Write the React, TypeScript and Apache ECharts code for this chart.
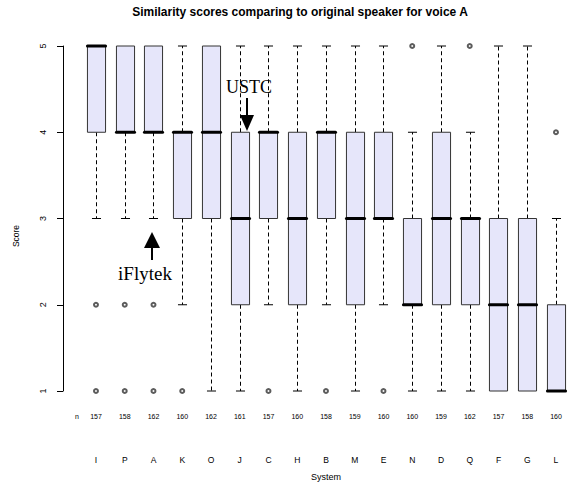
import React, { useEffect, useRef } from "react";
import * as echarts from "echarts";

const systems = ["I", "P", "A", "K", "O", "J", "C", "H", "B", "M", "E", "N", "D", "Q", "F", "G", "L"];
const counts = [157, 158, 162, 160, 162, 161, 157, 160, 158, 159, 160, 160, 159, 162, 157, 158, 160];
const lowWhisker = [3, 3, 3, 2, 1, 1, 2, 1, 2, 1, 2, 1, 1, 1, 1, 1, 1];
const q1 = [4, 4, 4, 3, 3, 2, 3, 2, 3, 2, 3, 2, 2, 2, 1, 1, 1];
const medians = [5, 4, 4, 4, 4, 3, 4, 3, 4, 3, 3, 2, 3, 3, 2, 2, 1];
const q3 = [5, 5, 5, 4, 5, 4, 4, 4, 4, 4, 4, 3, 4, 3, 3, 3, 2];
const highWhisker = [5, 5, 5, 5, 5, 5, 5, 5, 5, 5, 5, 4, 5, 4, 5, 5, 3];
const outliers: [string, number][] = [
  ["I", 2], ["I", 1], ["P", 2], ["P", 1], ["A", 2], ["A", 1],
  ["K", 1], ["C", 1], ["B", 1], ["E", 1], ["N", 5], ["Q", 5], ["L", 4],
];
const yMin = 1;
const yMax = 5;
const yStep = 1;

const titleText = "Similarity scores comparing to original speaker for voice A";
const SANS = "'Liberation Sans', Arial, sans-serif";
const SERIF = "'Liberation Serif', 'Times New Roman', serif";

export default function App() {
  const ref = useRef<HTMLDivElement>(null);

  useEffect(() => {
    if (!ref.current) return;
    const chart = echarts.init(ref.current, undefined, { renderer: "svg" });

    const boxData = systems.map((_, i) => [i, lowWhisker[i], q1[i], medians[i], q3[i], highWhisker[i]]);

    const option: any = {
      animation: false,
      backgroundColor: "#ffffff",
      grid: {
        left: 81.6,
        width: 488.75,
        top: 46,
        height: 345,
        containLabel: false,
        outerBoundsMode: "none",
      },
      xAxis: {
        type: "category",
        data: systems,
        boundaryGap: true,
        axisLine: { show: false },
        axisTick: { show: false },
        splitLine: { show: false },
        axisLabel: {
          interval: 0,
          margin: 3,
          formatter: (v: string, i: number) => `{n|${counts[i]}}\n{l|${v}}`,
          rich: {
            n: { fontSize: 7, lineHeight: 44, color: "#000", fontFamily: SANS },
            l: { fontSize: 8.5, lineHeight: 44, color: "#000", fontFamily: SANS },
          },
        },
        name: "System",
        nameLocation: "middle",
        nameGap: 81,
        nameTextStyle: { fontSize: 9, color: "#000", fontFamily: SANS },
      },
      yAxis: {
        type: "value",
        min: yMin,
        max: yMax,
        interval: yStep,
        offset: 18.6,
        axisLine: { show: true, lineStyle: { color: "#000", width: 1 } },
        axisTick: { show: true, length: 6, lineStyle: { color: "#000", width: 1 } },
        splitLine: { show: false },
        axisLabel: {
          rotate: 90,
          margin: 16,
          fontSize: 9,
          color: "#000",
          fontFamily: SANS,
        },
      },
      graphic: [
        {
          type: "text",
          x: 300,
          y: 12,
          style: {
            text: titleText,
            textAlign: "center",
            textVerticalAlign: "middle",
            font: `bold 12px ${SANS}`,
            fill: "#000",
          },
        },
        {
          type: "text",
          x: 16,
          y: 236,
          rotation: Math.PI / 2,
          style: {
            text: "Score",
            textAlign: "center",
            textVerticalAlign: "middle",
            font: `8.5px ${SANS}`,
            fill: "#000",
          },
        },
        {
          type: "text",
          x: 77,
          y: 416,
          style: {
            text: "n",
            textAlign: "center",
            textVerticalAlign: "middle",
            font: `7px ${SANS}`,
            fill: "#000",
          },
        },
        // USTC annotation
        {
          type: "text",
          x: 249,
          y: 87,
          style: {
            text: "USTC",
            textAlign: "center",
            textVerticalAlign: "middle",
            font: `18px ${SERIF}`,
            fill: "#000",
          },
        },
        {
          type: "line",
          shape: { x1: 247, y1: 98, x2: 247, y2: 116 },
          style: { stroke: "#000", lineWidth: 2 },
        },
        {
          type: "polygon",
          shape: { points: [[240, 115], [254, 115], [247, 131]] },
          style: { fill: "#000" },
        },
        // iFlytek annotation
        {
          type: "polygon",
          shape: { points: [[144, 248], [160, 248], [152, 232]] },
          style: { fill: "#000" },
        },
        {
          type: "line",
          shape: { x1: 152, y1: 247, x2: 152, y2: 260 },
          style: { stroke: "#000", lineWidth: 2 },
        },
        {
          type: "text",
          x: 145,
          y: 273,
          style: {
            text: "iFlytek",
            textAlign: "center",
            textVerticalAlign: "middle",
            font: `19px ${SERIF}`,
            fill: "#000",
          },
        },
      ],
      series: [
        {
          type: "custom",
          data: boxData,
          encode: { x: 0, y: [1, 2, 3, 4, 5] },
          clip: false,
          renderItem: (_params: any, api: any) => {
            const x = api.value(0);
            const lo = api.value(1);
            const a = api.value(2);
            const m = api.value(3);
            const b = api.value(4);
            const hi = api.value(5);
            const band = api.size([1, 0])[0];
            const w = band * 0.63;
            const capW = w / 2;
            const pLo = api.coord([x, lo]);
            const pA = api.coord([x, a]);
            const pM = api.coord([x, m]);
            const pB = api.coord([x, b]);
            const pHi = api.coord([x, hi]);
            const cx = Math.round(pA[0]) + 0.5;
            const dash = { stroke: "#000", lineWidth: 1, lineDash: [4, 3] };
            const solid = { stroke: "#000", lineWidth: 1 };
            const children: any[] = [];
            if (hi > b) {
              children.push({ type: "line", shape: { x1: cx, y1: pB[1], x2: cx, y2: pHi[1] }, style: dash });
              children.push({ type: "line", shape: { x1: cx - capW / 2, y1: pHi[1], x2: cx + capW / 2, y2: pHi[1] }, style: solid });
            }
            if (lo < a) {
              children.push({ type: "line", shape: { x1: cx, y1: pA[1], x2: cx, y2: pLo[1] }, style: dash });
              children.push({ type: "line", shape: { x1: cx - capW / 2, y1: pLo[1], x2: cx + capW / 2, y2: pLo[1] }, style: solid });
            }
            children.push({
              type: "rect",
              shape: { x: cx - w / 2, y: pB[1], width: w, height: pA[1] - pB[1] },
              style: { fill: "#E6E6FA", stroke: "#333", lineWidth: 1 },
            });
            children.push({
              type: "line",
              shape: { x1: cx - w / 2, y1: pM[1], x2: cx + w / 2, y2: pM[1] },
              style: { stroke: "#000", lineWidth: 3, lineCap: "round" },
            });
            return { type: "group", children };
          },
          z: 2,
        },
        {
          type: "scatter",
          data: outliers.map(([s, v]) => [s, v]),
          symbol: "emptyCircle",
          symbolSize: 4,
          clip: false,
          itemStyle: { color: "#333", borderColor: "#333", borderWidth: 1 },
          z: 3,
        },
      ],
    };

    chart.setOption(option);
    return () => chart.dispose();
  }, []);

  return (
    <div
      ref={ref}
      style={{ position: "fixed", left: 0, top: 0, width: 570, height: 491, background: "#fff" }}
    />
  );
}
